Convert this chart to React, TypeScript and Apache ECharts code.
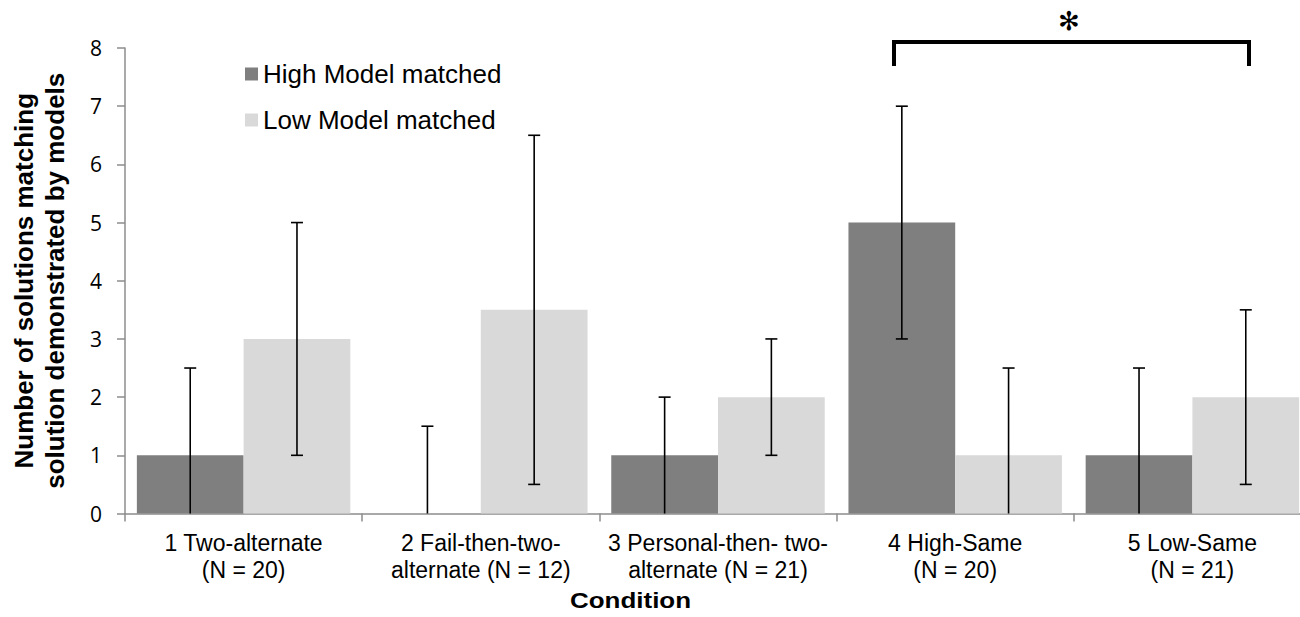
import React, { useEffect, useRef } from "react";
import * as echarts from "echarts";

const categories = [
  "1 Two-alternate\n(N = 20)",
  "2 Fail-then-two-\nalternate (N = 12)",
  "3 Personal-then- two-\nalternate (N = 21)",
  "4 High-Same\n(N = 20)",
  "5 Low-Same\n(N = 21)",
];
const seriesNames = ["High Model matched", "Low Model matched"];
const highValues = [1, 0, 1, 5, 1];
const lowValues = [3, 3.5, 2, 1, 2];
const highErrLow = [0, 0, 0, 3, 0];
const highErrHigh = [2.5, 1.5, 2, 7, 2.5];
const lowErrLow = [1, 0.5, 1, 0, 0.5];
const lowErrHigh = [5, 6.5, 3, 2.5, 3.5];
const yAxisTitle = "Number of solutions matching\nsolution demonstrated by models";
const xAxisTitle = "Condition";
const significanceMark = "✻";

const AXIS_COLOR = "#8c8c8c";
const FONT = "'Liberation Sans', Arial, sans-serif";

function errorSeries(lo: number[], hi: number[], side: number) {
  return {
    type: "custom",
    name: "err" + side,
    z: 10,
    silent: true,
    data: categories.map((_, i) => [i, lo[i], hi[i]]),
    encode: { x: 0, y: [1, 2] },
    renderItem: (params: any, api: any) => {
      const idx = api.value(0);
      const vLo = api.value(1);
      const vHi = api.value(2);
      const band = api.size([1, 0])[0];
      const barW = (band * 0.9) / 2;
      const pLo = api.coord([idx, vLo]);
      const pHi = api.coord([idx, vHi]);
      const cx = pLo[0] + side * (barW / 2);
      const cap = 6;
      const style = { stroke: "#000", lineWidth: 1.6 };
      const children: any[] = [
        { type: "line", shape: { x1: cx, y1: pLo[1], x2: cx, y2: pHi[1] }, style },
        { type: "line", shape: { x1: cx - cap, y1: pHi[1], x2: cx + cap, y2: pHi[1] }, style },
      ];
      if (vLo !== 0) {
        children.push({ type: "line", shape: { x1: cx - cap, y1: pLo[1], x2: cx + cap, y2: pLo[1] }, style });
      }
      return { type: "group", children };
    },
  };
}

export default function App() {
  const ref = useRef<HTMLDivElement>(null);
  useEffect(() => {
    if (!ref.current) return;
    const chart = echarts.init(ref.current, null, { renderer: "svg" });
    chart.setOption({
      animation: false,
      backgroundColor: "#fff",
      grid: { left: 125, top: 48, right: 1, bottom: 103.5, containLabel: false },
      legend: {
        data: seriesNames,
        orient: "vertical",
        left: 245,
        top: 61,
        padding: 0,
        itemWidth: 13,
        itemHeight: 13,
        itemGap: 20,
        icon: "rect",
        textStyle: { fontSize: 26, lineHeight: 26, color: "#000", fontFamily: FONT },
      },
      xAxis: {
        type: "category",
        data: categories,
        axisLine: { show: true, lineStyle: { color: AXIS_COLOR, width: 1.5 } },
        axisTick: { show: true, length: 8, lineStyle: { color: AXIS_COLOR, width: 1.5 } },
        axisLabel: {
          interval: 0,
          margin: 16,
          fontSize: 23,
          lineHeight: 27,
          color: "#000",
          fontFamily: FONT,
        },
      },
      yAxis: {
        type: "value",
        min: 0,
        max: 8,
        interval: 1,
        name: yAxisTitle,
        nameLocation: "middle",
        nameGap: 55,
        nameTextStyle: {
          fontSize: 26,
          fontWeight: "bold",
          lineHeight: 31,
          color: "#000",
          fontFamily: FONT,
        },
        splitLine: { show: false },
        axisLine: { show: true, lineStyle: { color: AXIS_COLOR, width: 1.5 } },
        axisTick: { show: true, length: 8, lineStyle: { color: AXIS_COLOR, width: 1.5 } },
        axisLabel: { margin: 23, fontSize: 21, color: "#000", fontFamily: "'Open Sans', sans-serif" },
      },
      series: [
        {
          type: "bar",
          name: seriesNames[0],
          data: highValues,
          barGap: "0%",
          barCategoryGap: "10%",
          itemStyle: { color: "#7f7f7f" },
        },
        {
          type: "bar",
          name: seriesNames[1],
          data: lowValues,
          barGap: "0%",
          barCategoryGap: "10%",
          itemStyle: { color: "#d9d9d9" },
        },
        errorSeries(highErrLow, highErrHigh, -1),
        errorSeries(lowErrLow, lowErrHigh, 1),
      ],
      graphic: [
        {
          type: "text",
          x: 570,
          y: 600,
          scaleX: 1.18,
          style: {
            text: xAxisTitle,
            fontSize: 22,
            fontWeight: "bold",
            fill: "#000",
            fontFamily: FONT,
            align: "left",
            verticalAlign: "middle",
          },
        },
        {
          type: "polyline",
          shape: { points: [[894, 66], [894, 42], [1249, 42], [1249, 66]] },
          style: { stroke: "#000", lineWidth: 4, fill: null },
        },
        {
          type: "text",
          x: 1069,
          y: 21,
          style: {
            text: significanceMark,
            fontSize: 26,
            fill: "#000",
            align: "center",
            verticalAlign: "middle",
            fontFamily: "'DejaVu Sans', sans-serif",
          },
        },
      ],
    });
    return () => chart.dispose();
  }, []);
  return (
    <div style={{ position: "fixed", left: 0, top: 0, width: 1300, height: 617, overflow: "hidden", background: "#fff" }}>
      <div ref={ref} style={{ width: 1312, height: 617 }} />
    </div>
  );
}
